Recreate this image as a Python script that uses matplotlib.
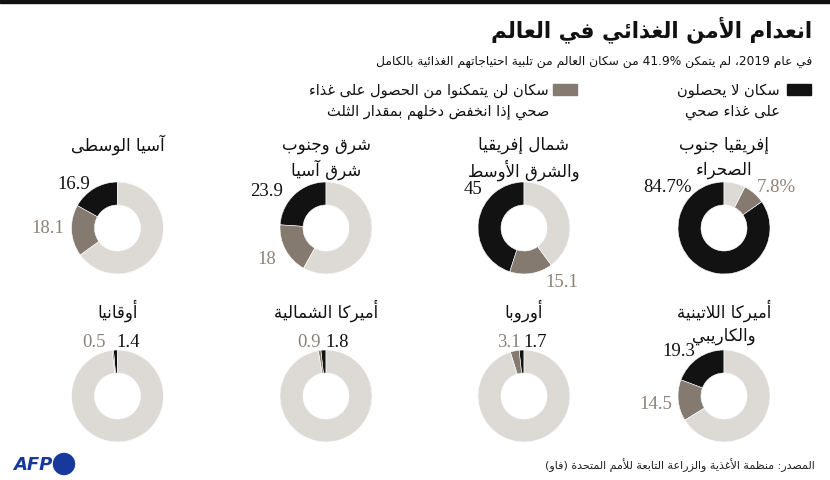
import re
import matplotlib
matplotlib.use("Agg")
import matplotlib.pyplot as plt
from matplotlib.patches import Rectangle, Ellipse

# data, right to left as in the chart
regions = ["إفريقيا جنوب\nالصحراء", "شمال إفريقيا\nوالشرق الأوسط", "شرق وجنوب\nشرق آسيا", "آسيا الوسطى",
           "أميركا اللاتينية\nوالكاريبي", "أوروبا", "أميركا الشمالية", "أوقانيا"]
no_healthy = [84.7, 45, 23.9, 16.9, 19.3, 1.7, 1.8, 1.4]
at_risk = [7.8, 15.1, 18, 18.1, 14.5, 3.1, 0.9, 0.5]
black_labels = ["84.7%", "45", "23.9", "16.9", "19.3", "1.7", "1.8", "1.4"]
brown_labels = ["7.8%", "15.1", "18", "18.1", "14.5", "3.1", "0.9", "0.5"]

title = "انعدام الأمن الغذائي في العالم"
subtitle = "في عام 2019، لم يتمكن 41.9% من سكان العالم من تلبية احتياجاتهم الغذائية بالكامل"
leg1 = "سكان لا يحصلون\nعلى غذاء صحي"
leg2 = "سكان لن يتمكنوا من الحصول على غذاء\nصحي إذا انخفض دخلهم بمقدار الثلث"
source = "المصدر: منظمة الأغذية والزراعة التابعة للأمم المتحدة (فاو)"

BLACK = "#121212"
BROWN = "#847a6f"
LIGHT = "#dddad6"
BROWN_TXT = "#8c8279"
AFP_BLUE = "#17399b"

# --- simple arabic shaping (matplotlib has no bidi / joining) ---
AR = {'ء': (0xFE80, 1), 'آ': (0xFE81, 2), 'أ': (0xFE83, 2), 'ؤ': (0xFE85, 2), 'إ': (0xFE87, 2),
      'ئ': (0xFE89, 4), 'ا': (0xFE8D, 2), 'ب': (0xFE8F, 4), 'ة': (0xFE93, 2), 'ت': (0xFE95, 4),
      'ث': (0xFE99, 4), 'ج': (0xFE9D, 4), 'ح': (0xFEA1, 4), 'خ': (0xFEA5, 4), 'د': (0xFEA9, 2),
      'ذ': (0xFEAB, 2), 'ر': (0xFEAD, 2), 'ز': (0xFEAF, 2), 'س': (0xFEB1, 4), 'ش': (0xFEB5, 4),
      'ص': (0xFEB9, 4), 'ض': (0xFEBD, 4), 'ط': (0xFEC1, 4), 'ظ': (0xFEC5, 4), 'ع': (0xFEC9, 4),
      'غ': (0xFECD, 4), 'ف': (0xFED1, 4), 'ق': (0xFED5, 4), 'ك': (0xFED9, 4), 'ل': (0xFEDD, 4),
      'م': (0xFEE1, 4), 'ن': (0xFEE5, 4), 'ه': (0xFEE9, 4), 'و': (0xFEED, 2), 'ى': (0xFEEF, 2),
      'ي': (0xFEF1, 4)}
LAMALEF = {'آ': 0xFEF5, 'أ': 0xFEF7, 'إ': 0xFEF9, 'ا': 0xFEFB}


def shape(s):
    out = []
    i, n = 0, len(s)
    while i < n:
        c = s[i]
        if c not in AR:
            out.append(c)
            i += 1
            continue
        prev = s[i - 1] if i > 0 else ''
        jp = prev in AR and AR[prev][1] == 4
        if c == 'ل' and i + 1 < n and s[i + 1] in LAMALEF:
            out.append(chr(LAMALEF[s[i + 1]] + (1 if jp else 0)))
            i += 2
            continue
        nxt = s[i + 1] if i + 1 < n else ''
        jn = AR[c][1] == 4 and nxt in AR and AR[nxt][1] > 1
        base, nf = AR[c]
        if nf == 1:
            f = 0
        elif jp and jn:
            f = 3
        elif jp:
            f = 1
        elif jn:
            f = 2
        else:
            f = 0
        out.append(chr(base + f))
        i += 1
    return "".join(out)


def rtl(s):
    lines = []
    for line in s.split("\n"):
        toks = re.findall(r"[0-9][0-9.%]*|.", shape(line))
        toks = toks[::-1]
        toks = [{"(": ")", ")": "("}.get(t, t) for t in toks]
        lines.append("".join(toks))
    return "\n".join(lines)


W, H = 830, 481
fig = plt.figure(figsize=(W / 100, H / 100), dpi=100)


def fx(x):
    return x / W


def fy(y):
    return 1 - y / H


AR_FONT = "DejaVu Sans"
NUM_FONT = "Liberation Serif"

# top bar
fig.patches.append(Rectangle((0, fy(4)), 1, 4 / H, transform=fig.transFigure, color="#111111"))

fig.text(fx(812), fy(30), rtl(title), ha="right", va="center", fontsize=15.5, fontweight="bold",
         family=AR_FONT, color="#111111")
fig.text(fx(812), fy(62), rtl(subtitle), ha="right", va="center", fontsize=8.8,
         family=AR_FONT, color="#111111")

# legend
fig.patches.append(Rectangle((fx(787), fy(96)), 24 / W, 11 / H, transform=fig.transFigure, color=BLACK))
fig.patches.append(Rectangle((fx(553), fy(96)), 24 / W, 11 / H, transform=fig.transFigure, color=BROWN))
for k, ln in enumerate(leg1.split("\n")):
    fig.text(fx(780), fy(91 + 21 * k), rtl(ln), ha="right", va="center", fontsize=10.5,
             family=AR_FONT, color="#111111")
for k, ln in enumerate(leg2.split("\n")):
    fig.text(fx(549), fy(91 + 21 * k), rtl(ln), ha="right", va="center", fontsize=10.5,
             family=AR_FONT, color="#111111")

# donut layout
col_x = [724, 524, 326, 117.5]
row_y = [229, 397]
title_y = [145, 311]
r = 46
black_off = [(-57, -42), (-51, -39), (-59, -37), (-44, -44), (-45, -45), (11, -54), (11, -54), (11, -54)]
brown_off = [(52, -42), (38, 54), (-59, 31), (-70, 0), (-68, 8), (-15, -54), (-17, -54), (-24, -54)]

for i, name in enumerate(regions):
    cx = col_x[i % 4]
    cy = row_y[i // 4]
    ax = fig.add_axes([fx(cx - r), fy(cy + r), 2 * r / W, 2 * r / H])
    rest = 100 - no_healthy[i] - at_risk[i]
    ax.pie([no_healthy[i], at_risk[i], rest], colors=[BLACK, BROWN, LIGHT], startangle=90,
           counterclock=True, radius=1, wedgeprops=dict(width=0.5, edgecolor="white", linewidth=0.4))
    ax.set_xlim(-1, 1)
    ax.set_ylim(-1, 1)
    ax.axis("off")

    for k, ln in enumerate(name.split("\n")):
        fig.text(fx(cx), fy(title_y[i // 4] + 25 * k), rtl(ln), ha="center", va="center",
                 fontsize=12, family=AR_FONT, color="#111111")

    dx, dy = black_off[i]
    fig.text(fx(cx + dx), fy(cy + dy), black_labels[i], ha="center", va="center", fontsize=13.5,
             family=NUM_FONT, color="#111111")
    dx, dy = brown_off[i]
    fig.text(fx(cx + dx), fy(cy + dy), brown_labels[i], ha="center", va="center", fontsize=13.5,
             family=NUM_FONT, color=BROWN_TXT)

# source + logo
fig.text(fx(815), fy(466), rtl(source), ha="right", va="center", fontsize=8,
         family=AR_FONT, color="#222222")
fig.text(fx(13), fy(465), "AFP", ha="left", va="center", fontsize=13, fontweight="bold",
         fontstyle="italic", family="DejaVu Sans", color=AFP_BLUE)
fig.patches.append(Ellipse((fx(64), fy(465)), 21 / W, 21 / H, transform=fig.transFigure, color=AFP_BLUE))

fig.savefig("out.png", dpi=100, facecolor="white")
